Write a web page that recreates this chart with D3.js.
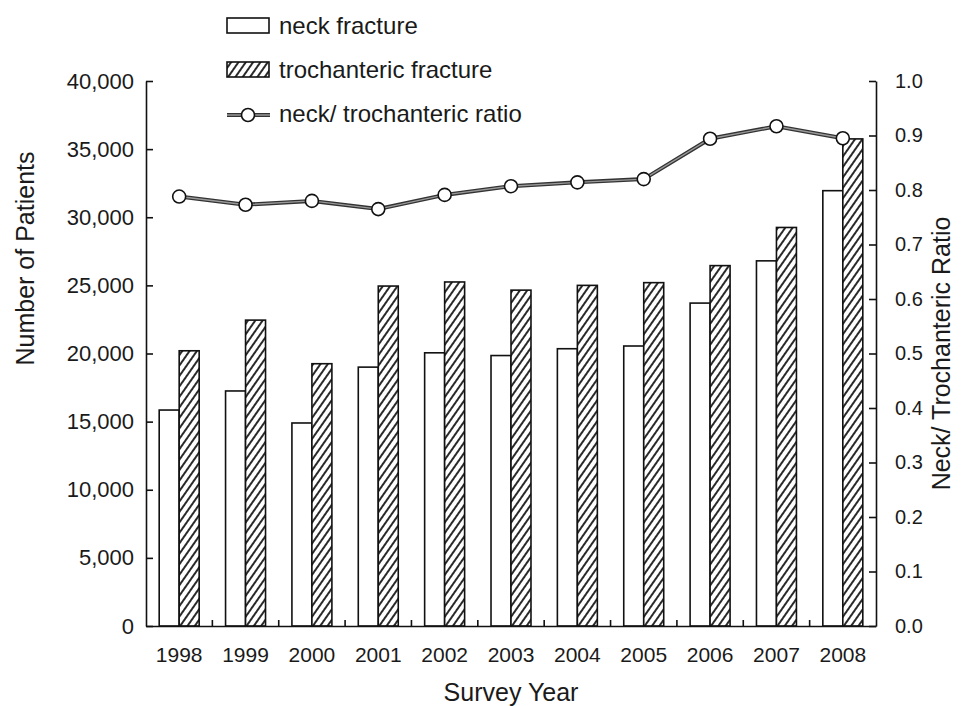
<!DOCTYPE html>
<html>
<head>
<meta charset="utf-8">
<script src="https://cdn.jsdelivr.net/npm/d3@7/dist/d3.min.js"></script>
<style>
  body { margin: 0; background: #fff; }
  svg { display: block; font-family: "Liberation Sans", Arial, sans-serif; }
  .axis text { font-size: 20px; fill: #1a1a1a; }
  .axis.left text { font-size: 22px; }
  .axis.bottom text { font-size: 21px; }
  .axis path, .axis line { stroke: #111; stroke-width: 1.6px; }
  .title { font-size: 25px; fill: #1a1a1a; }
  .legend text { font-size: 24px; fill: #1a1a1a; }
</style>
</head>
<body>
<svg width="966" height="706"></svg>
<script>
// survey data
var years = ["1998","1999","2000","2001","2002","2003","2004","2005","2006","2007","2008"];
var neckFracture = [15850, 17250, 14900, 19000, 20050, 19850, 20350, 20550, 23700, 26800, 31950];
var trochFracture = [20200, 22450, 19250, 24950, 25250, 24650, 25000, 25200, 26450, 29250, 35750];
var neckTrochRatio = [0.788, 0.773, 0.780, 0.765, 0.791, 0.807, 0.814, 0.820, 0.894, 0.917, 0.895];
var leftTicks = [0, 5000, 10000, 15000, 20000, 25000, 30000, 35000, 40000];
var rightTicks = [0, 0.1, 0.2, 0.3, 0.4, 0.5, 0.6, 0.7, 0.8, 0.9, 1.0];
var seriesNames = ["neck", "troch"];

var svg = d3.select("svg");
var plotLeft = 146, plotRight = 876, plotTop = 81, plotBottom = 626;

var x = d3.scaleBand().domain(years).range([plotLeft, plotRight]).paddingInner(0);
var x1 = d3.scaleBand().domain(seriesNames).range([0, x.bandwidth()]).paddingInner(0).paddingOuter(0.66);
var y = d3.scaleLinear().domain([0, 40000]).range([plotBottom, plotTop]);
var y2 = d3.scaleLinear().domain([0, 1]).range([plotBottom, plotTop]);

// hatch for trochanteric bars
var defs = svg.append("defs");
defs.append("pattern")
  .attr("id", "hatch")
  .attr("patternUnits", "userSpaceOnUse")
  .attr("width", 6).attr("height", 6)
  .attr("patternTransform", "rotate(35)")
  .call(function(p){
    p.append("rect").attr("width", 6).attr("height", 6).attr("fill", "#fff");
    p.append("line").attr("x1", 3).attr("y1", 0).attr("x2", 3).attr("y2", 6)
      .attr("stroke", "#2a2a2a").attr("stroke-width", 2);
  });

var data = years.map(function(yr, i){
  return {year: yr, neck: neckFracture[i], troch: trochFracture[i], ratio: neckTrochRatio[i]};
});

// bars
var groups = svg.append("g").selectAll("g")
  .data(data).enter().append("g")
  .attr("transform", function(d){ return "translate(" + x(d.year) + ",0)"; });

groups.selectAll("rect")
  .data(function(d){ return seriesNames.map(function(k){ return {key: k, value: d[k]}; }); })
  .enter().append("rect")
  .attr("x", function(d){ return x1(d.key); })
  .attr("y", function(d){ return y(d.value); })
  .attr("width", x1.bandwidth())
  .attr("height", function(d){ return plotBottom - y(d.value); })
  .attr("fill", function(d){ return d.key == "neck" ? "#fff" : "url(#hatch)"; })
  .attr("stroke", "#111")
  .attr("stroke-width", 1.6);

// axes
var yAxis = d3.axisLeft(y).tickValues(leftTicks).tickFormat(d3.format(","))
  .tickSizeInner(-7).tickSizeOuter(0).tickPadding(12);
svg.append("g").attr("class", "axis left")
  .attr("transform", "translate(" + plotLeft + ",0)")
  .call(yAxis);

var y2Axis = d3.axisRight(y2).tickValues(rightTicks).tickFormat(d3.format(".1f"))
  .tickSizeInner(-7).tickSizeOuter(0).tickPadding(19);
svg.append("g").attr("class", "axis right")
  .attr("transform", "translate(" + plotRight + ",0)")
  .call(y2Axis);

var xAxis = d3.axisBottom(x).tickSize(0).tickPadding(21);
var xg = svg.append("g").attr("class", "axis bottom")
  .attr("transform", "translate(0," + plotBottom + ")")
  .call(xAxis);

// separators between years
xg.selectAll(".sep")
  .data(years.slice(1)).enter().append("line")
  .attr("class", "sep")
  .attr("x1", function(d){ return x(d); }).attr("x2", function(d){ return x(d); })
  .attr("y1", 0).attr("y2", -6);

// ratio line
var line = d3.line()
  .x(function(d){ return x(d.year) + x.bandwidth()/2; })
  .y(function(d){ return y2(d.ratio); });

svg.append("path").datum(data)
  .attr("d", line)
  .attr("fill", "none")
  .attr("stroke", "#333")
  .attr("stroke-width", 4);
svg.append("path").datum(data)
  .attr("d", line)
  .attr("fill", "none")
  .attr("stroke", "#999")
  .attr("stroke-width", 1.4);

svg.append("g").selectAll("circle")
  .data(data).enter().append("circle")
  .attr("cx", function(d){ return x(d.year) + x.bandwidth()/2; })
  .attr("cy", function(d){ return y2(d.ratio); })
  .attr("r", 6.5)
  .attr("fill", "#fff")
  .attr("stroke", "#111")
  .attr("stroke-width", 1.6);

// titles
svg.append("text").attr("class", "title")
  .attr("transform", "translate(34," + ((plotTop + plotBottom)/2 - 95) + ") rotate(-90)")
  .attr("text-anchor", "middle")
  .text("Number of Patients");
svg.append("text").attr("class", "title")
  .attr("transform", "translate(950," + ((plotTop + plotBottom)/2) + ") rotate(-90)")
  .attr("text-anchor", "middle")
  .text("Neck/ Trochanteric Ratio");
svg.append("text").attr("class", "title")
  .attr("x", (plotLeft + plotRight)/2).attr("y", 701)
  .attr("text-anchor", "middle")
  .text("Survey Year");

// legend
var legend = svg.append("g").attr("class", "legend");
legend.append("rect").attr("x", 227).attr("y", 18).attr("width", 42).attr("height", 15)
  .attr("fill", "#fff").attr("stroke", "#111").attr("stroke-width", 1.6);
legend.append("text").attr("x", 279).attr("y", 34).text("neck fracture");
legend.append("rect").attr("x", 227).attr("y", 62).attr("width", 42).attr("height", 15)
  .attr("fill", "url(#hatch)").attr("stroke", "#111").attr("stroke-width", 1.6);
legend.append("text").attr("x", 279).attr("y", 78).text("trochanteric fracture");
legend.append("line").attr("x1", 227).attr("x2", 270).attr("y1", 115).attr("y2", 115)
  .attr("stroke", "#333").attr("stroke-width", 4);
legend.append("line").attr("x1", 227).attr("x2", 270).attr("y1", 115).attr("y2", 115)
  .attr("stroke", "#999").attr("stroke-width", 1.4);
legend.append("circle").attr("cx", 248).attr("cy", 115).attr("r", 6.5)
  .attr("fill", "#fff").attr("stroke", "#111").attr("stroke-width", 1.6);
legend.append("text").attr("x", 279).attr("y", 122).text("neck/ trochanteric ratio");
</script>
</body>
</html>
